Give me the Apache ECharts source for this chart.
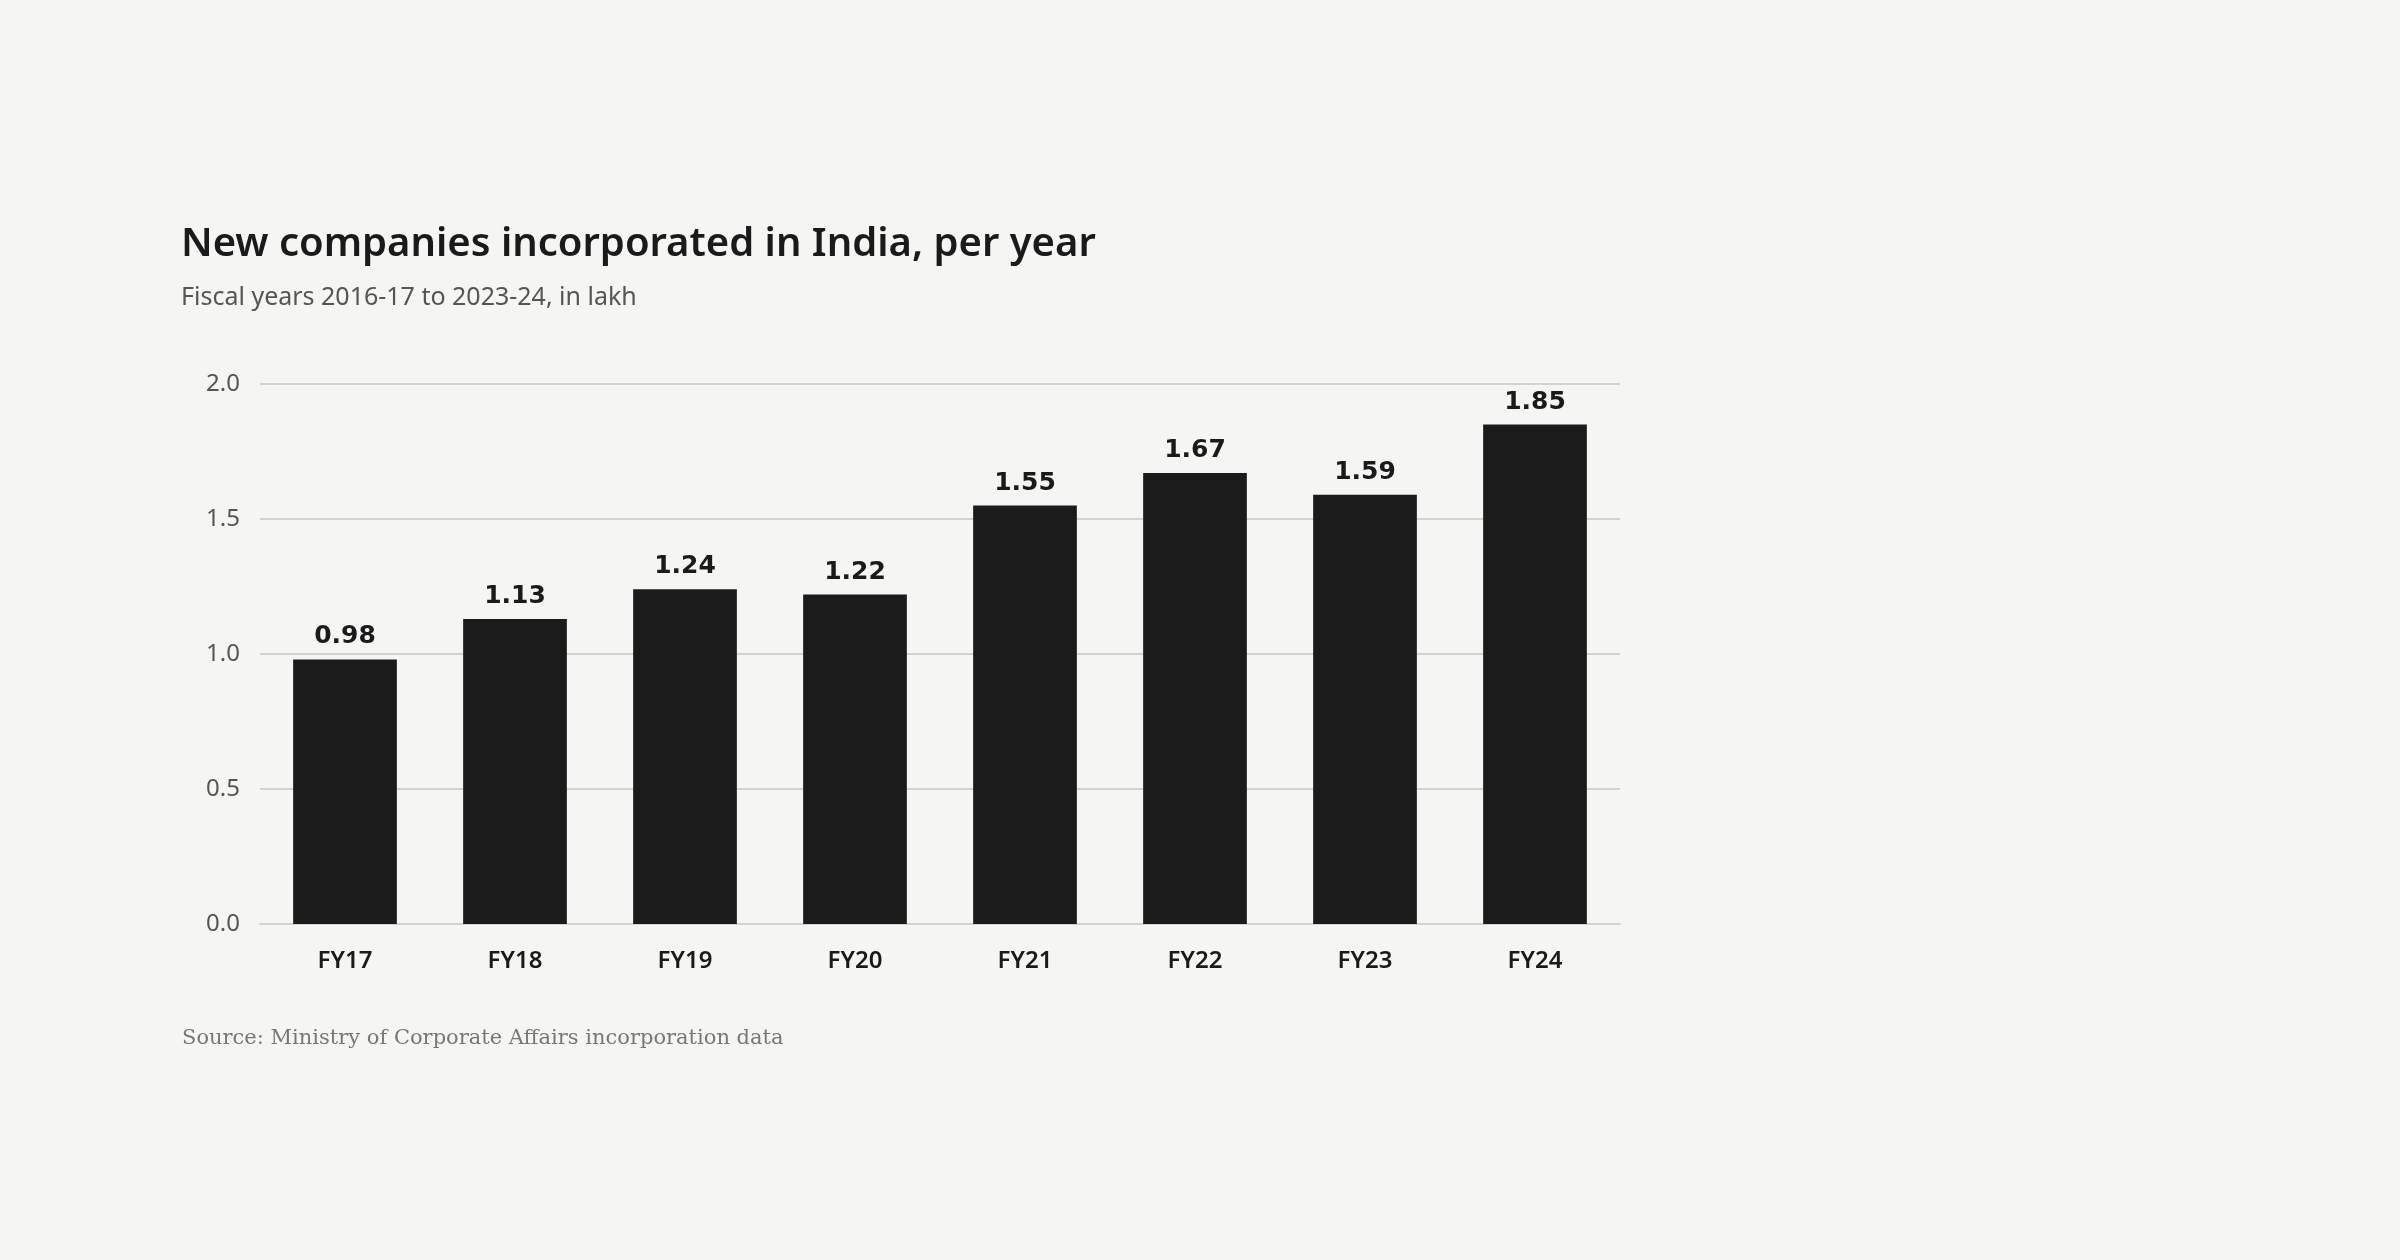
<!DOCTYPE html>
<html>
<head>
<meta charset="utf-8">
<title>New companies incorporated in India</title>
<script src="https://cdn.jsdelivr.net/npm/echarts@6/dist/echarts.min.js"></script>
<style>
  html, body { margin: 0; padding: 0; background: #f5f5f3; }
  #panel { width: 2400px; height: 1260px; }
</style>
</head>
<body>
<div id="panel"></div>
<script>
  // fiscal years, values in lakh
  const years = ["FY17", "FY18", "FY19", "FY20", "FY21", "FY22", "FY23", "FY24"];
  const companies = [0.98, 1.13, 1.24, 1.22, 1.55, 1.67, 1.59, 1.85];

  const panel = echarts.init(document.getElementById("panel"));
  const option = {
    backgroundColor: "#f5f5f3",
    animation: false,
    title: [
      {
        text: "New companies incorporated in India, per year",
        left: 176,
        top: 220,
        textStyle: {
          fontFamily: "Noto Sans",
          fontWeight: 600,
          fontSize: 40,
          color: "#1a1a1a"
        }
      },
      {
        text: "Fiscal years 2016-17 to 2023-24, in lakh",
        left: 176,
        top: 280,
        textStyle: {
          fontFamily: "Noto Sans",
          fontWeight: 400,
          fontSize: 25,
          color: "#555555"
        }
      },
      {
        text: "Source: Ministry of Corporate Affairs incorporation data",
        left: 177,
        top: 1023,
        textStyle: {
          fontFamily: "DejaVu Serif",
          fontWeight: 400,
          fontSize: 21,
          color: "#777777"
        }
      }
    ],
    grid: {
      left: 260,
      right: 780,
      top: 384,
      bottom: 336,
      containLabel: false
    },
    xAxis: {
      type: "category",
      data: years,
      axisLine: { show: true, lineStyle: { color: "#d3d3cd", width: 2 } },
      axisTick: { show: false },
      axisLabel: {
        margin: 25,
        fontFamily: "Noto Sans",
        fontWeight: 600,
        fontSize: 24,
        color: "#1a1a1a"
      }
    },
    yAxis: {
      type: "value",
      min: 0,
      max: 2,
      interval: 0.5,
      axisLine: { show: false },
      axisTick: { show: false },
      splitLine: { lineStyle: { color: "#d3d3cd", width: 2 } },
      axisLabel: {
        margin: 20,
        fontFamily: "Noto Sans",
        fontSize: 24,
        color: "#555555",
        formatter: v => v.toFixed(1)
      }
    },
    series: [
      {
        name: "Companies",
        type: "bar",
        data: companies,
        barCategoryGap: "39%",
        itemStyle: { color: "#1b1b1b" },
        label: {
          show: true,
          position: "top",
          distance: 10,
          fontFamily: "DejaVu Sans",
          fontWeight: "bold",
          fontSize: 25,
          color: "#1a1a1a",
          formatter: p => p.value.toFixed(2)
        }
      }
    ]
  };
  panel.setOption(option, true);
</script>
</body>
</html>
